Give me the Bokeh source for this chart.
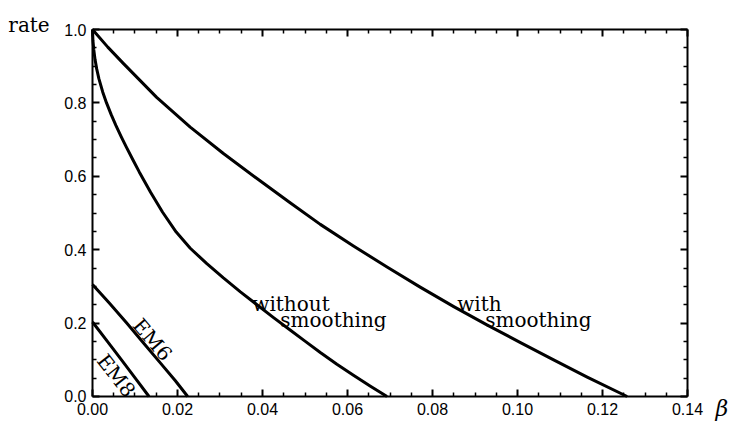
from bokeh.plotting import figure
from bokeh.models import (Range1d, LinearAxis, FixedTicker, NumeralTickFormatter,
                          CustomJSTickFormatter)
from bokeh.core.properties import value
from bokeh.embed import file_html
from bokeh.resources import INLINE

# ---- data ----
with_x = [0, 0.0036, 0.0073, 0.0151, 0.023, 0.0308, 0.0387, 0.0465, 0.0536, 0.0614,
          0.0693, 0.0771, 0.085, 0.0928, 0.1007, 0.1085, 0.1164, 0.1258]
with_y = [1, 0.952, 0.907, 0.815, 0.734, 0.662, 0.594, 0.528, 0.469, 0.41,
          0.353, 0.298, 0.245, 0.195, 0.147, 0.1, 0.053, 0]

without_x = [0, 0.0001, 0.0003, 0.0006, 0.001, 0.0015, 0.0024, 0.0033, 0.0044, 0.0055,
             0.0068, 0.008, 0.0095, 0.011, 0.0137, 0.0165, 0.0197, 0.023, 0.0269, 0.0308,
             0.0348, 0.0387, 0.0426, 0.0465, 0.05, 0.0536, 0.0575, 0.0614, 0.0654, 0.0693]
without_y = [1, 0.97, 0.945, 0.918, 0.892, 0.866, 0.83, 0.8, 0.768, 0.739,
             0.707, 0.679, 0.645, 0.612, 0.556, 0.502, 0.448, 0.404, 0.362, 0.323,
             0.285, 0.25, 0.215, 0.181, 0.151, 0.12, 0.088, 0.058, 0.028, 0]

em6_x = [0, 0.004, 0.008, 0.012, 0.016, 0.0195, 0.0224]
em6_y = [0.305, 0.254, 0.201, 0.146, 0.091, 0.043, 0]

em8_x = [0, 0.0035, 0.007, 0.0105, 0.0133]
em8_y = [0.203, 0.15, 0.097, 0.043, 0]

curve_labels = ["without", "smoothing", "with", "smoothing"]
curve_label_x = [0.0376, 0.0442, 0.0858, 0.0924]
curve_label_y = [0.253, 0.209, 0.253, 0.209]

em_labels = ["EM6", "EM8"]
em_label_x = [0.0141, 0.0056]
em_label_y = [0.155, 0.057]
em_label_angle = [-0.86, -0.91]

x_ticks = [0.0, 0.02, 0.04, 0.06, 0.08, 0.10, 0.12, 0.14]
x_minor = [0.005, 0.01, 0.015, 0.025, 0.03, 0.035, 0.045, 0.05, 0.055, 0.065, 0.07, 0.075,
           0.085, 0.09, 0.095, 0.105, 0.11, 0.115, 0.125, 0.13, 0.135]
y_ticks = [0.0, 0.2, 0.4, 0.6, 0.8, 1.0]
y_minor = [0.05, 0.1, 0.15, 0.25, 0.3, 0.35, 0.45, 0.5, 0.55, 0.65, 0.7, 0.75, 0.85, 0.9, 0.95]

x_limits = (0.0, 0.14)
y_limits = (0.0, 1.0)

x_title = "β"
x_title_pos = (0.1466, -0.033)
y_title = "rate"
y_title_pos = (-0.0198, 1.011)

SERIF = "DejaVu Serif"
SANS = "Liberation Sans"

# The frame fills the whole canvas so that nothing (tick labels, axis titles) is clipped;
# the plotting box itself is drawn by axes fixed at, and bounded to, x_limits / y_limits.
p = figure(width=735, height=421,
           x_range=Range1d(-0.021647, 0.151294), y_range=Range1d(-0.06812, 1.07902),
           output_backend="svg", toolbar_location=None,
           min_border_left=0, min_border_right=0, min_border_top=0, min_border_bottom=0)
p.title.text = ""
p.title.visible = False
p.xaxis.visible = False
p.yaxis.visible = False
p.xgrid.visible = False
p.ygrid.visible = False
p.background_fill_color = "white"
p.border_fill_color = "white"
p.outline_line_color = None


def style_axis(ax, ticks, minor, fmt, show_labels, bounds):
    ax.ticker = FixedTicker(ticks=ticks, minor_ticks=minor)
    ax.bounds = bounds
    ax.axis_line_color = "black"
    ax.axis_line_width = 2
    ax.major_tick_in = 7
    ax.major_tick_out = 0
    ax.minor_tick_in = 4
    ax.minor_tick_out = 0
    ax.major_tick_line_color = "black"
    ax.minor_tick_line_color = "black"
    ax.major_tick_line_width = 2
    ax.minor_tick_line_width = 1.5
    ax.major_label_text_font = SANS
    ax.major_label_text_color = "black"
    ax.major_label_text_font_size = "16px"
    if show_labels:
        ax.formatter = NumeralTickFormatter(format=fmt)
    else:
        ax.formatter = CustomJSTickFormatter(code="return ''")
        ax.major_label_standoff = 0


bottom = LinearAxis(fixed_location=y_limits[0])
style_axis(bottom, x_ticks, x_minor, "0.00", True, x_limits)
bottom.major_label_standoff = 7
p.add_layout(bottom, "below")

left = LinearAxis(fixed_location=x_limits[0])
style_axis(left, y_ticks, y_minor, "0.0", True, y_limits)
left.major_label_standoff = 6
p.add_layout(left, "left")

top = LinearAxis(fixed_location=y_limits[1])
style_axis(top, x_ticks, x_minor, "0.00", False, x_limits)
p.add_layout(top, "above")

right = LinearAxis(fixed_location=x_limits[1])
style_axis(right, y_ticks, y_minor, "0.0", False, y_limits)
p.add_layout(right, "right")

for xs, ys in [(with_x, with_y), (without_x, without_y), (em6_x, em6_y), (em8_x, em8_y)]:
    p.line(xs, ys, line_width=3, line_color="black", line_join="round")

p.text(x=curve_label_x, y=curve_label_y, text=curve_labels,
       text_font=value(SERIF), text_font_size="20px", text_color="black",
       text_align="left", text_baseline="alphabetic")

p.text(x=em_label_x, y=em_label_y, text=em_labels, angle=em_label_angle,
       text_font=value(SERIF), text_font_size="20px", text_color="black",
       text_align="center", text_baseline="middle")

p.text(x=[x_title_pos[0]], y=[x_title_pos[1]], text=[x_title],
       text_font=value(SERIF), text_font_size="22px", text_font_style="italic",
       text_color="black", text_align="left", text_baseline="middle")

p.text(x=[y_title_pos[0]], y=[y_title_pos[1]], text=[y_title],
       text_font=value(SERIF), text_font_size="20px",
       text_color="black", text_align="left", text_baseline="alphabetic")

open("out.html", "w").write(file_html(p, INLINE))
